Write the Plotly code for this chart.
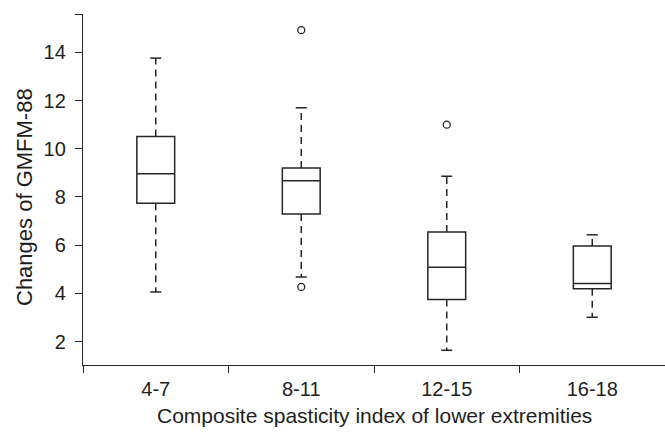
import plotly.graph_objects as go

categories = ["4-7", "8-11", "12-15", "16-18"]
q1 = [7.74, 7.29, 3.75, 4.19]
median = [8.96, 8.67, 5.08, 4.41]
q3 = [10.51, 9.20, 6.55, 5.97]
lower_whisker = [4.06, 4.68, 1.64, 3.01]
upper_whisker = [13.76, 11.70, 8.86, 6.43]
outlier_cat = ["8-11", "8-11", "12-15"]
outlier_val = [14.92, 4.27, 11.0]

y_ticks = [2, 4, 6, 8, 10, 12, 14]
x_title = "Composite spasticity index of lower extremities"
y_title = "Changes of GMFM-88"

LINE = "#262626"
TEXT = "#1e1e1e"
FONT = "Liberation Sans, Arial, sans-serif"
Y_RANGE = [1.03, 15.59]
BOX_W = 0.26
CAP_HALF = 0.038

fig = go.Figure()

# boxes (whiskers drawn separately as dashed lines)
fig.add_trace(go.Box(
    x=categories, q1=q1, median=median, q3=q3,
    lowerfence=q1, upperfence=q3,
    width=BOX_W, whiskerwidth=0,
    fillcolor="white", line=dict(color=LINE, width=1.5),
    boxpoints=False, showlegend=False, hoverinfo="skip",
))

idx = {c: i for i, c in enumerate(categories)}

# dashed whiskers + solid caps on a numeric overlay axis
for i, c in enumerate(categories):
    xi = idx[c]
    fig.add_trace(go.Scatter(
        x=[xi, xi, None, xi, xi],
        y=[q3[i], upper_whisker[i], None, q1[i], lower_whisker[i]],
        mode="lines", xaxis="x2",
        line=dict(color=LINE, width=1.5, dash="7px,5px"),
        showlegend=False, hoverinfo="skip",
    ))
    fig.add_trace(go.Scatter(
        x=[xi - CAP_HALF, xi + CAP_HALF, None, xi - CAP_HALF, xi + CAP_HALF],
        y=[upper_whisker[i], upper_whisker[i], None, lower_whisker[i], lower_whisker[i]],
        mode="lines", xaxis="x2",
        line=dict(color=LINE, width=1.5),
        showlegend=False, hoverinfo="skip",
    ))

fig.add_trace(go.Scatter(
    x=[idx[c] for c in outlier_cat], y=outlier_val,
    mode="markers", xaxis="x2",
    marker=dict(symbol="circle-open", size=7, color=LINE, line=dict(width=1.3, color=LINE)),
    showlegend=False, hoverinfo="skip",
))

fig.update_layout(
    width=665, height=434,
    margin=dict(l=83, r=0, t=14, b=69),
    plot_bgcolor="white", paper_bgcolor="white",
    font=dict(family=FONT, color=TEXT),
    xaxis=dict(
        type="category", categoryorder="array", categoryarray=categories,
        range=[-0.5, 3.5], tickson="boundaries",
        ticks="outside", ticklen=7, tickwidth=1.3, tickcolor=LINE,
        showline=True, linecolor=LINE, linewidth=1.3,
        showgrid=False, zeroline=False, automargin=False,
        ticklabelstandoff=6,
        tickfont=dict(size=20, family=FONT, color=TEXT),
    ),
    xaxis2=dict(
        overlaying="x", anchor="y", range=[-0.5, 3.5], visible=False,
    ),
    yaxis=dict(
        range=Y_RANGE,
        tickvals=y_ticks + [Y_RANGE[1]],
        ticktext=[str(v) for v in y_ticks] + [""],
        ticks="outside", ticklen=7, tickwidth=1.3, tickcolor=LINE,
        showline=True, linecolor=LINE, linewidth=1.3,
        showgrid=False, zeroline=False, automargin=False,
        ticklabelstandoff=5,
        tickfont=dict(size=20, family=FONT, color=TEXT),
    ),
    annotations=[
        dict(text=x_title, xref="paper", yref="paper", x=0.5, y=-0.1444,
             xanchor="center", yanchor="middle", showarrow=False,
             font=dict(size=21, family=FONT, color=TEXT)),
        dict(text=y_title, xref="paper", yref="paper", x=(25 - 83) / 582, y=(365 - 197) / 351,
             xanchor="center", yanchor="middle", textangle=-90, showarrow=False,
             font=dict(size=22, family=FONT, color=TEXT)),
    ],
)

fig.write_html("out.html", config={"displayModeBar": False},
               post_script="document.body.style.margin='0';")
